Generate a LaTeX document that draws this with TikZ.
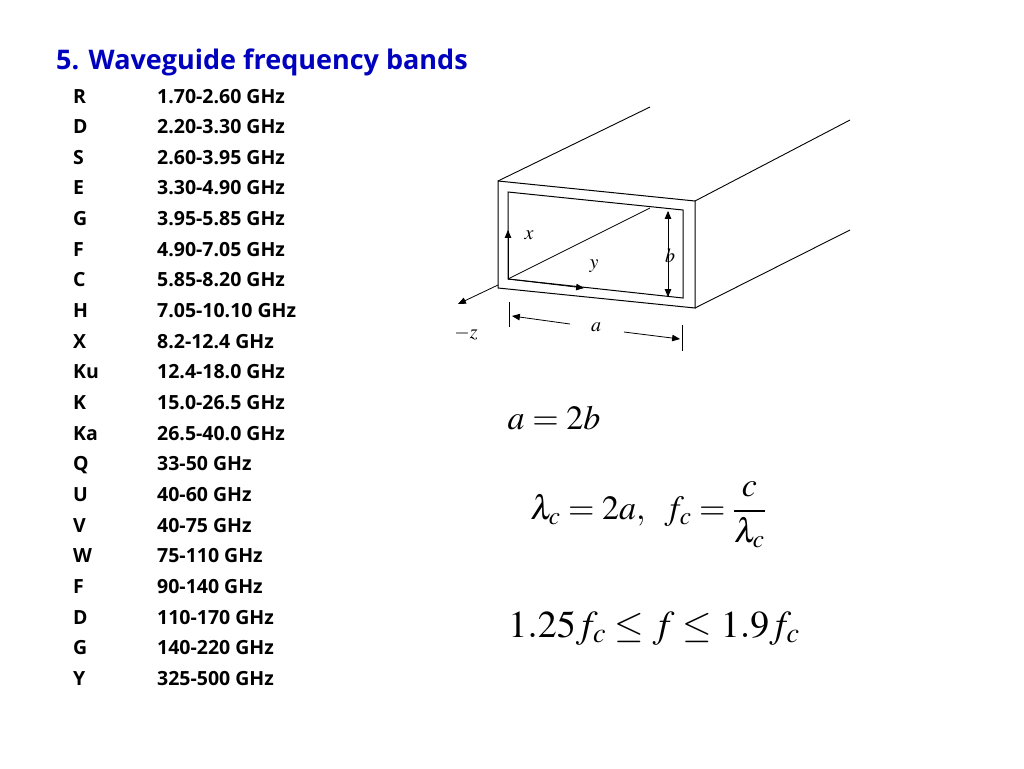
\documentclass[tikz,border=0pt]{standalone}
\usepackage{mathptmx}
\usepackage{fontspec}
\setmainfont{Open Sans}
\usetikzlibrary{arrows}

\begin{document}
\begin{tikzpicture}
  [
    x=1pt,y=-1pt,
    >=triangle 45,
    band/.style={anchor=base west,font=\fontsize{19.5}{21}\selectfont\bfseries},
    eqn/.style={font=\fontsize{34}{36}\selectfont},
    lbl/.style={font=\fontsize{20}{22}\selectfont},
  ]
  \useasboundingbox (0,0) rectangle (1024,768);
  \node (title) [anchor=base west,inner sep=0pt,text=blue!75!black,font=\fontsize{27}{30}\selectfont\bfseries] at (56,70) {5. Waveguide frequency bands};

  % band table
  \foreach \nm/\rng [count=\i from 0] in {R/1.70-2.60 GHz,D/2.20-3.30 GHz,S/2.60-3.95 GHz,E/3.30-4.90 GHz,G/3.95-5.85 GHz,F/4.90-7.05 GHz,C/5.85-8.20 GHz,H/7.05-10.10 GHz,X/8.2-12.4 GHz,Ku/12.4-18.0 GHz,K/15.0-26.5 GHz,Ka/26.5-40.0 GHz,Q/33-50 GHz,U/40-60 GHz,V/40-75 GHz,W/75-110 GHz,F/90-140 GHz,D/110-170 GHz,G/140-220 GHz,Y/325-500 GHz}
  {
    \node (name\i) [band,inner sep=0pt] at (73,{103+30.65*\i}) {\nm};
    \node (range\i) [band,inner sep=0pt] at (157,{103+30.65*\i}) {\rng};
  }

  % waveguide
  \draw [line width=1pt] (498,181) -- (695,201) -- (695,308) -- (498,288) -- cycle;
  \draw [line width=1pt] (508,192) -- (683,210) -- (683,298) -- (508,279) -- cycle;
  \draw [line width=0.9pt] (498,181) -- (650,107);
  \draw [line width=0.9pt] (695,201) -- (850,120);
  \draw [line width=0.9pt] (695,308) -- (850,230);
  \draw [line width=0.8pt] (508,279) -- (650,208);
  \coordinate (origin) at (508,279);
  \draw [->,line width=0.8pt] (origin) -- (508,230);
  \draw [->,line width=0.8pt] (origin) -- (584,288);
  \draw [->,line width=0.8pt] (498,285) -- (458,304);
  \draw [<->,line width=0.8pt] (668,211) -- (668,297);
  \node (xlbl) [lbl] at (529,235) {$x$};
  \node (ylbl) [lbl] at (594,266) {$y$};
  \node (blbl) [lbl] at (670,256) {$b$};
  \node (zlbl) [lbl] at (466,333) {$\mathrm{-}z$};
  \node (albl) [lbl] at (596,327) {$a$};
  \draw [line width=0.8pt] (509,302) -- (509,327);
  \draw [line width=0.8pt] (682,325) -- (682,351);
  \draw [->,line width=0.8pt] (570,324) -- (512,316);
  \draw [->,line width=0.8pt] (624,332) -- (680,339);

  % relations
  \node (ratio) [eqn] at (554,418) {$a=2b$};
  \node (cutoff) [eqn] at (648,515) {$\lambda_c=2a,\;\; f_c=\displaystyle\frac{c}{\lambda_c}$};
  \node (range) [eqn,font=\fontsize{38}{40}\selectfont] at (654,628) {$1.25f_c\leq f\leq 1.9f_c$};
\end{tikzpicture}
\end{document}
